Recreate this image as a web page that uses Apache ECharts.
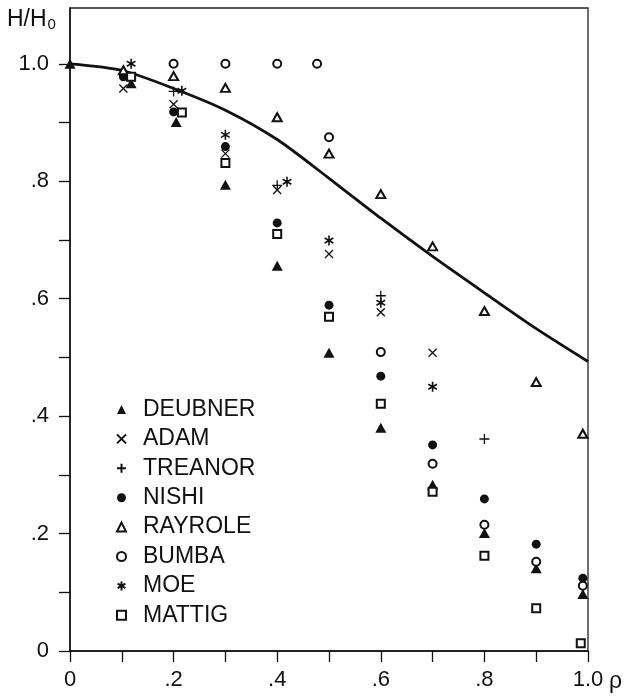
<!DOCTYPE html>
<html>
<head>
<meta charset="utf-8">
<script src="https://cdn.jsdelivr.net/npm/echarts@6/dist/echarts.min.js"></script>
<style>
  html, body { margin: 0; padding: 0; background: #fff; }
  #chart { width: 625px; height: 697px; }
</style>
</head>
<body>
<div id="chart"></div>
<script>
// Model curve H/H0 versus rho
const modelRho   = [0, 0.1, 0.2, 0.3, 0.4, 0.5, 0.6, 0.7, 0.8, 0.9, 1.0];
const modelRatio = [1.0, 0.989, 0.958, 0.921, 0.871, 0.805, 0.737, 0.672, 0.610, 0.549, 0.493];

// Measured points, [rho, H/H0]
const deubner = [[0, 1.0], [0.118, 0.967], [0.205, 0.901], [0.3, 0.794], [0.4, 0.656], [0.5, 0.508],
                 [0.6, 0.380], [0.7, 0.283], [0.8, 0.201], [0.9, 0.141], [0.99, 0.097]];
const adam    = [[0.103, 0.958], [0.2, 0.931], [0.3, 0.847], [0.4, 0.785], [0.5, 0.676], [0.6, 0.577], [0.7, 0.508]];
const treanor = [[0.2, 0.953], [0.4, 0.793], [0.6, 0.605], [0.8, 0.361]];
const nishi   = [[0.103, 0.978], [0.2, 0.918], [0.3, 0.859], [0.4, 0.729], [0.5, 0.589], [0.6, 0.468],
                 [0.7, 0.351], [0.8, 0.259], [0.9, 0.182], [0.99, 0.124]];
const rayrole = [[0.103, 0.989], [0.2, 0.979], [0.3, 0.959], [0.4, 0.909], [0.5, 0.847], [0.6, 0.778],
                 [0.7, 0.689], [0.8, 0.579], [0.9, 0.458], [0.99, 0.370]];
const bumba   = [[0.2, 1.0], [0.3, 1.0], [0.4, 1.0], [0.477, 1.0], [0.5, 0.875], [0.6, 0.509],
                 [0.7, 0.319], [0.8, 0.215], [0.9, 0.152], [0.99, 0.111]];
const moe     = [[0.118, 1.0], [0.216, 0.954], [0.3, 0.879], [0.419, 0.799], [0.5, 0.699], [0.6, 0.593], [0.7, 0.450]];
const mattig  = [[0.118, 0.978], [0.216, 0.917], [0.3, 0.831], [0.4, 0.710], [0.5, 0.569], [0.6, 0.421],
                 [0.7, 0.271], [0.8, 0.162], [0.9, 0.073], [0.986, 0.013]];

// Axis ticks and labels
const xTicks  = [0, 0.1, 0.2, 0.3, 0.4, 0.5, 0.6, 0.7, 0.8, 0.9, 1.0];
const xLabels = [0, 0.2, 0.4, 0.6, 0.8, 1.0];
const yTicks  = [0, 0.1, 0.2, 0.3, 0.4, 0.5, 0.6, 0.7, 0.8, 0.9, 1.0];
const yLabels = [0, 0.2, 0.4, 0.6, 0.8, 1.0];

const FONT = '"Liberation Sans", Arial, sans-serif';
const INK = '#111';

function fmt(v) {
  if (Math.abs(v) < 1e-9) return '0';
  if (Math.abs(v - 1) < 1e-9) return '1.0';
  return '.' + Math.round(v * 10);
}

const CROSS = 'path://M0,0L10,10M0,10L10,0';
const PLUS  = 'path://M5,0L5,10M0,5L10,5';
const STAR  = 'path://M0,-10L0,10M-8.66,-5L8.66,5M-8.66,5L8.66,-5';

function pts(name, data, symbol, size, style) {
  return {
    name, type: 'scatter', data, symbol, symbolSize: size, symbolKeepAspect: true,
    clip: false, z: 3,
    itemStyle: Object.assign({ color: INK, borderColor: INK, borderWidth: 0, opacity: 1 }, style),
    emphasis: { disabled: true }
  };
}

const chart = echarts.init(document.getElementById('chart'), null, { renderer: 'canvas' });

chart.setOption({
  animation: false,
  backgroundColor: '#fff',
  grid: {
    left: 70, right: 37, top: 8, bottom: 46,
    show: true, borderColor: '#222', borderWidth: 1.3, backgroundColor: 'transparent'
  },
  xAxis: {
    type: 'value', min: 0, max: 1, interval: 0.1,
    axisLine: { show: true, onZero: false, lineStyle: { color: INK, width: 1.5 } },
    axisTick: { show: true, inside: false, length: 11, customValues: xTicks, lineStyle: { color: INK, width: 1.3 } },
    axisLabel: { customValues: xLabels, formatter: fmt, margin: 18, color: INK, fontFamily: FONT, fontSize: 22 },
    splitLine: { show: false }
  },
  yAxis: {
    type: 'value', min: 0, max: 1.095, interval: 0.1,
    axisLine: { show: true, onZero: false, lineStyle: { color: INK, width: 1.5 } },
    axisTick: { show: true, inside: false, length: 11, customValues: yTicks, lineStyle: { color: INK, width: 1.3 } },
    axisLabel: { customValues: yLabels, formatter: fmt, margin: 21, color: INK, fontFamily: FONT, fontSize: 22 },
    splitLine: { show: false }
  },
  legend: {
    orient: 'vertical', left: 111, top: 393,
    itemWidth: 9, itemHeight: 9, itemGap: 6.4,
    selectedMode: false,
    textStyle: { fontFamily: FONT, fontSize: 23, lineHeight: 21, color: INK, padding: [0, 0, 0, 12] },
    data: ['DEUBNER', 'ADAM', 'TREANOR', 'NISHI', 'RAYROLE', 'BUMBA', 'MOE', 'MATTIG']
  },
  graphic: [
    {
      type: 'text', left: 7, top: 8,
      style: {
        text: 'H/H{s|0}', fontFamily: FONT, fontSize: 23, fill: INK,
        rich: { s: { fontFamily: FONT, fontSize: 15, fill: INK, padding: [11, 0, 0, 1] } }
      }
    },
    {
      type: 'text', left: 609, top: 670,
      style: { text: 'ρ', fontFamily: FONT, fontSize: 23, fill: INK }
    }
  ],
  series: [
    {
      name: 'model', type: 'line', data: modelRho.map((r, i) => [r, modelRatio[i]]),
      smooth: 0.25, symbol: 'none', z: 2,
      lineStyle: { color: INK, width: 2.8 }, emphasis: { disabled: true }
    },
    pts('DEUBNER', deubner, 'triangle', [11, 10], { borderWidth: 0 }),
    pts('ADAM', adam, CROSS, 8, { borderWidth: 1.3 }),
    pts('TREANOR', treanor, PLUS, 10, { borderWidth: 1.3 }),
    pts('NISHI', nishi, 'circle', 9, { borderWidth: 0 }),
    pts('RAYROLE', rayrole, 'emptyTriangle', [9, 8], { borderWidth: 1.3 }),
    pts('BUMBA', bumba, 'emptyCircle', 8, { borderWidth: 1.3 }),
    pts('MOE', moe, STAR, 10, { borderWidth: 1.6 }),
    pts('MATTIG', mattig, 'emptyRect', 8, { borderWidth: 1.3 })
  ]
});
</script>
</body>
</html>
